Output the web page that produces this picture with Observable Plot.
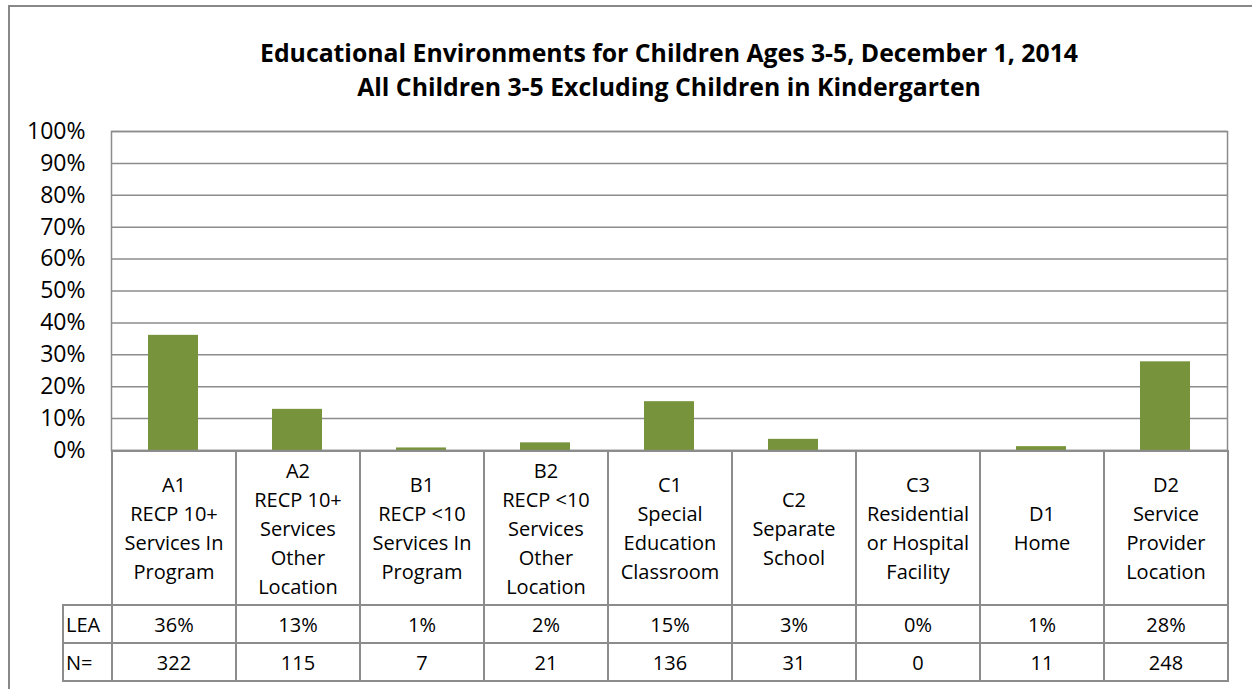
<!DOCTYPE html>
<html><head><meta charset="utf-8">
<script src="https://cdn.jsdelivr.net/npm/d3@7"></script>
<script src="https://cdn.jsdelivr.net/npm/@observablehq/plot@0.6"></script>
<style>
body{margin:0;background:#fff;font-family:"Open Sans",sans-serif;color:#000;}
#wrap{position:relative;width:1252px;height:689px;overflow:hidden;}
#border{position:absolute;left:8px;top:5px;width:1270px;height:720px;border:2px solid #888;box-sizing:border-box;}
#title{position:absolute;left:111px;width:1116px;top:35px;text-align:center;font-weight:bold;font-size:24.8px;line-height:34px;}
#chart{position:absolute;left:0;top:0;}
#tbl{position:absolute;border-collapse:collapse;table-layout:fixed;font-size:20px;}
#tbl td{border:2px solid #8c8c8c;text-align:center;vertical-align:middle;padding:0;white-space:pre-line;line-height:29px;}
#tbl td.lab{text-align:left;padding-left:2px;}
#tbl td.corner{border-top:none;border-left:none;}
</style></head>
<body><div id="wrap"><div id="border"></div><div id="chart"></div>
<div id="title">Educational Environments for Children Ages 3-5, December 1, 2014<br>All Children 3-5 Excluding Children in Kindergarten</div>
</div>
<script>
const codes = ["A1","A2","B1","B2","C1","C2","C3","D1","D2"];
const descriptions = [
  "RECP 10+\nServices In\nProgram",
  "RECP 10+\nServices\nOther\nLocation",
  "RECP <10\nServices In\nProgram",
  "RECP <10\nServices\nOther\nLocation",
  "Special\nEducation\nClassroom",
  "Separate\nSchool",
  "Residential\nor Hospital\nFacility",
  "Home",
  "Service\nProvider\nLocation"
];
const values = [36.1, 12.9, 0.8, 2.4, 15.3, 3.5, 0, 1.2, 27.8];
const leaLabels = ["36%","13%","1%","2%","15%","3%","0%","1%","28%"];
const nValues = [322, 115, 7, 21, 136, 31, 0, 11, 248];
const yTicks = [0,10,20,30,40,50,60,70,80,90,100];
const rowLabels = ["LEA","N="];

const data = codes.map((c,i)=>({code:c, value:values[i]}));
const grid = "#8c8c8c";

const plot = Plot.plot({
  width: 1252, height: 470,
  marginTop: 131, marginBottom: 20, marginLeft: 111, marginRight: 25,
  style: {fontFamily: "Open Sans", background: "transparent"},
  x: {domain: codes, paddingInner: 0.6, paddingOuter: 0.3, axis: null},
  y: {domain: [0,100], axis: null},
  marks: [
    Plot.ruleY(yTicks, {stroke: grid, strokeWidth: 1.5}),
    Plot.barY(data, {x: "code", y: "value", fill: "#77933C"}),
    Plot.frame({stroke: grid, strokeWidth: 1.5}),
    Plot.axisY({ticks: yTicks, tickSize: 0, tickPadding: 26, tickFormat: d => d + "%", fontSize: 23, label: null})
  ]
});
document.getElementById("chart").appendChild(plot);

const xs = plot.scale("x");
const step = xs.step;
const left0 = xs.apply(codes[0]) - (step - xs.bandwidth)/2;
const labW = 49;

const tbl = document.createElement("table");
tbl.id = "tbl";
tbl.style.left = (left0 - labW) + "px";
tbl.style.top = "450px";
tbl.style.width = (labW + step*codes.length) + "px";
const cg = document.createElement("colgroup");
const c0 = document.createElement("col"); c0.style.width = labW + "px"; cg.appendChild(c0);
codes.forEach(()=>{const c=document.createElement("col"); c.style.width = step + "px"; cg.appendChild(c);});
tbl.appendChild(cg);

const r1 = tbl.insertRow(); r1.style.height = "154px";
const corner = r1.insertCell(); corner.className = "corner";
codes.forEach((c,i)=>{ const td = r1.insertCell(); td.textContent = c + "\n" + descriptions[i]; });
const r2 = tbl.insertRow(); r2.style.height = "38px";
const l2 = r2.insertCell(); l2.className = "lab"; l2.textContent = rowLabels[0];
leaLabels.forEach(v=>{ const td = r2.insertCell(); td.textContent = v; });
const r3 = tbl.insertRow(); r3.style.height = "38px";
const l3 = r3.insertCell(); l3.className = "lab"; l3.textContent = rowLabels[1];
nValues.forEach(v=>{ const td = r3.insertCell(); td.textContent = v; });
document.getElementById("wrap").appendChild(tbl);
</script>
</body></html>
